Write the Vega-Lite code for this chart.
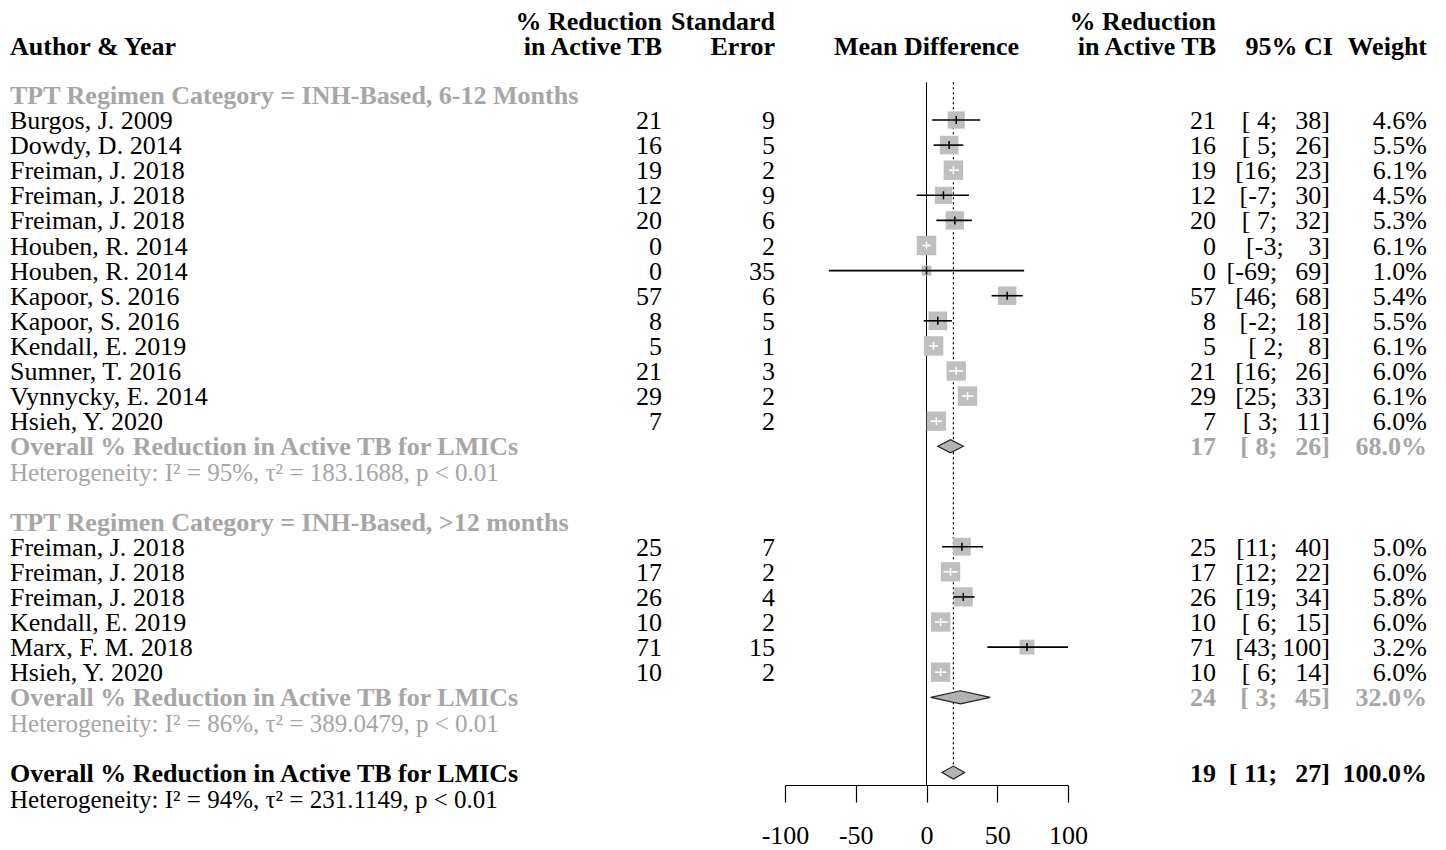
{
  "$schema": "https://vega.github.io/schema/vega-lite/v6.json",
  "padding": {"left": 10, "top": 0, "right": 5, "bottom": 5},
  "background": "white",
  "spacing": 0,
  "bounds": "flush",
  "config": {
    "view": {"stroke": null},
    "text": {"font": "Liberation Serif", "fontSize": 26, "baseline": "middle"}
  },
  "resolve": {"scale": {"x": "independent", "y": "independent"}},
  "datasets": {
    "rows": [
      {"row": 0, "kind": "group", "label": "TPT Regimen Category = INH-Based, 6-12 Months"},
      {"row": 1, "kind": "study", "label": "Burgos, J. 2009", "est": 21, "se": 9, "lower": 4, "upper": 38, "weight": 4.6, "ci": "[\u00a04;\u2002\u200938]", "ci_in_box": "no"},
      {"row": 2, "kind": "study", "label": "Dowdy, D. 2014", "est": 16, "se": 5, "lower": 5, "upper": 26, "weight": 5.5, "ci": "[\u00a05;\u2002\u200926]", "ci_in_box": "no"},
      {"row": 3, "kind": "study", "label": "Freiman, J. 2018", "est": 19, "se": 2, "lower": 16, "upper": 23, "weight": 6.1, "ci": "[16;\u2002\u200923]", "ci_in_box": "yes"},
      {"row": 4, "kind": "study", "label": "Freiman, J. 2018", "est": 12, "se": 9, "lower": -7, "upper": 30, "weight": 4.5, "ci": "[-7;\u2002\u200930]", "ci_in_box": "no"},
      {"row": 5, "kind": "study", "label": "Freiman, J. 2018", "est": 20, "se": 6, "lower": 7, "upper": 32, "weight": 5.3, "ci": "[\u00a07;\u2002\u200932]", "ci_in_box": "no"},
      {"row": 6, "kind": "study", "label": "Houben, R. 2014", "est": 0, "se": 2, "lower": -3, "upper": 3, "weight": 6.1, "ci": "[-3;\u2002\u2009\u00a03]", "ci_in_box": "yes"},
      {"row": 7, "kind": "study", "label": "Houben, R. 2014", "est": 0, "se": 35, "lower": -69, "upper": 69, "weight": 1.0, "ci": "[-69;\u2002\u200969]", "ci_in_box": "no"},
      {"row": 8, "kind": "study", "label": "Kapoor, S. 2016", "est": 57, "se": 6, "lower": 46, "upper": 68, "weight": 5.4, "ci": "[46;\u2002\u200968]", "ci_in_box": "no"},
      {"row": 9, "kind": "study", "label": "Kapoor, S. 2016", "est": 8, "se": 5, "lower": -2, "upper": 18, "weight": 5.5, "ci": "[-2;\u2002\u200918]", "ci_in_box": "no"},
      {"row": 10, "kind": "study", "label": "Kendall, E. 2019", "est": 5, "se": 1, "lower": 2, "upper": 8, "weight": 6.1, "ci": "[\u00a02;\u2002\u2009\u00a08]", "ci_in_box": "yes"},
      {"row": 11, "kind": "study", "label": "Sumner, T. 2016", "est": 21, "se": 3, "lower": 16, "upper": 26, "weight": 6.0, "ci": "[16;\u2002\u200926]", "ci_in_box": "yes"},
      {"row": 12, "kind": "study", "label": "Vynnycky, E. 2014", "est": 29, "se": 2, "lower": 25, "upper": 33, "weight": 6.1, "ci": "[25;\u2002\u200933]", "ci_in_box": "yes"},
      {"row": 13, "kind": "study", "label": "Hsieh, Y. 2020", "est": 7, "se": 2, "lower": 3, "upper": 11, "weight": 6.0, "ci": "[\u00a03;\u2002\u200911]", "ci_in_box": "yes"},
      {"row": 14, "kind": "subtotal", "label": "Overall % Reduction in Active TB for LMICs", "est": 17, "lower": 8, "upper": 26, "weight": 68.0, "ci": "[\u00a08;\u2002\u200926]"},
      {"row": 15, "kind": "het_sub", "label": "Heterogeneity: I² = 95%, τ² = 183.1688, p < 0.01"},
      {"row": 17, "kind": "group", "label": "TPT Regimen Category = INH-Based, >12 months"},
      {"row": 18, "kind": "study", "label": "Freiman, J. 2018", "est": 25, "se": 7, "lower": 11, "upper": 40, "weight": 5.0, "ci": "[11;\u2002\u200940]", "ci_in_box": "no"},
      {"row": 19, "kind": "study", "label": "Freiman, J. 2018", "est": 17, "se": 2, "lower": 12, "upper": 22, "weight": 6.0, "ci": "[12;\u2002\u200922]", "ci_in_box": "yes"},
      {"row": 20, "kind": "study", "label": "Freiman, J. 2018", "est": 26, "se": 4, "lower": 19, "upper": 34, "weight": 5.8, "ci": "[19;\u2002\u200934]", "ci_in_box": "no"},
      {"row": 21, "kind": "study", "label": "Kendall, E. 2019", "est": 10, "se": 2, "lower": 6, "upper": 15, "weight": 6.0, "ci": "[\u00a06;\u2002\u200915]", "ci_in_box": "yes"},
      {"row": 22, "kind": "study", "label": "Marx, F. M. 2018", "est": 71, "se": 15, "lower": 43, "upper": 100, "weight": 3.2, "ci": "[43;\u2009100]", "ci_in_box": "no"},
      {"row": 23, "kind": "study", "label": "Hsieh, Y. 2020", "est": 10, "se": 2, "lower": 6, "upper": 14, "weight": 6.0, "ci": "[\u00a06;\u2002\u200914]", "ci_in_box": "yes"},
      {"row": 24, "kind": "subtotal", "label": "Overall % Reduction in Active TB for LMICs", "est": 24, "lower": 3, "upper": 45, "weight": 32.0, "ci": "[\u00a03;\u2002\u200945]"},
      {"row": 25, "kind": "het_sub", "label": "Heterogeneity: I² = 86%, τ² = 389.0479, p < 0.01"},
      {"row": 27, "kind": "total", "label": "Overall % Reduction in Active TB for LMICs", "est": 19, "lower": 11, "upper": 27, "weight": 100.0, "ci": "[\u00a011;\u2002\u200927]"},
      {"row": 28, "kind": "het_total", "label": "Heterogeneity: I² = 94%, τ² = 231.1149, p < 0.01"}
    ],
    "headers": [
      {"col": "author", "row": -2, "text": "Author & Year"},
      {"col": "pct", "row": -3, "text": "% Reduction"},
      {"col": "pct", "row": -2, "text": "in Active TB"},
      {"col": "se", "row": -3, "text": "Standard"},
      {"col": "se", "row": -2, "text": "Error"},
      {"col": "md", "row": -2, "text": "Mean Difference"},
      {"col": "pct2", "row": -3, "text": "% Reduction"},
      {"col": "pct2", "row": -2, "text": "in Active TB"},
      {"col": "ci", "row": -2, "text": "95% CI"},
      {"col": "w", "row": -2, "text": "Weight"}
    ]
  },
  "data": {"name": "rows"},
  "hconcat": [
    {
      "width": 610, "height": 845,
      "encoding": {
        "x": {"datum": 0, "type": "quantitative", "scale": {"domain": [0, 1], "nice": false, "zero": false}, "axis": null},
        "y": {"field": "row", "type": "quantitative", "scale": {"domain": [-3.781, 29.884], "reverse": true, "nice": false, "zero": false}, "axis": null}
      },
      "layer": [
        {"data": {"name": "headers"}, "transform": [{"filter": "datum.col == 'author'"}],
         "mark": {"type": "text", "align": "left", "fontWeight": "bold", "color": "black", "dy": 2},
         "encoding": {"text": {"field": "text"}}},
        {"transform": [{"filter": "datum.kind == 'study'"}],
         "mark": {"type": "text", "align": "left", "color": "black", "dy": 1},
         "encoding": {"text": {"field": "label"}}},
        {"transform": [{"filter": "datum.kind == 'group' || datum.kind == 'subtotal'"}],
         "mark": {"type": "text", "align": "left", "fontWeight": "bold", "color": "#a6a6a6", "dy": 1},
         "encoding": {"text": {"field": "label"}}},
        {"transform": [{"filter": "datum.kind == 'het_sub'"}],
         "mark": {"type": "text", "align": "left", "color": "#a6a6a6", "fontSize": 25, "dy": 2},
         "encoding": {"text": {"field": "label"}}},
        {"transform": [{"filter": "datum.kind == 'total'"}],
         "mark": {"type": "text", "align": "left", "fontWeight": "bold", "color": "black", "dy": 1},
         "encoding": {"text": {"field": "label"}}},
        {"transform": [{"filter": "datum.kind == 'het_total'"}],
         "mark": {"type": "text", "align": "left", "color": "black", "fontSize": 25, "dy": 2},
         "encoding": {"text": {"field": "label"}}}
      ]
    },
    {
      "width": 42, "height": 845,
      "encoding": {
        "x": {"datum": 1, "type": "quantitative", "scale": {"domain": [0, 1], "nice": false, "zero": false}, "axis": null},
        "y": {"field": "row", "type": "quantitative", "scale": {"domain": [-3.781, 29.884], "reverse": true, "nice": false, "zero": false}, "axis": null}
      },
      "layer": [
        {"data": {"name": "headers"}, "transform": [{"filter": "datum.col == 'pct'"}],
         "mark": {"type": "text", "align": "right", "fontWeight": "bold", "color": "black", "dy": 2},
         "encoding": {"text": {"field": "text"}}},
        {"transform": [{"filter": "datum.kind == 'study'"}],
         "mark": {"type": "text", "align": "right", "color": "black", "dy": 1},
         "encoding": {"text": {"field": "est", "type": "quantitative", "format": "d"}}}
      ]
    },
    {
      "width": 123, "height": 845,
      "encoding": {
        "x": {"datum": 1, "type": "quantitative", "scale": {"domain": [0, 1], "nice": false, "zero": false}, "axis": null},
        "y": {"field": "row", "type": "quantitative", "scale": {"domain": [-3.781, 29.884], "reverse": true, "nice": false, "zero": false}, "axis": null}
      },
      "layer": [
        {"data": {"name": "headers"}, "transform": [{"filter": "datum.col == 'se'"}],
         "mark": {"type": "text", "align": "right", "fontWeight": "bold", "color": "black", "dy": 2, "dx": -10},
         "encoding": {"text": {"field": "text"}}},
        {"transform": [{"filter": "datum.kind == 'study'"}],
         "mark": {"type": "text", "align": "right", "color": "black", "dx": -10, "dy": 1},
         "encoding": {"text": {"field": "se", "type": "quantitative", "format": "d"}}}
      ]
    },
    {
      "width": 283, "height": 785,
      "layer": [
        {"data": {"name": "headers"}, "transform": [{"filter": "datum.col == 'md'"}],
         "mark": {"type": "text", "align": "center", "fontWeight": "bold", "color": "black", "dy": 2},
         "encoding": {
           "x": {"datum": 0, "type": "quantitative"},
           "y": {"field": "row", "type": "quantitative"},
           "text": {"field": "text"}}},
        {"transform": [{"filter": "datum.kind == 'total'"}],
         "mark": {"type": "rule", "color": "black", "strokeWidth": 1},
         "encoding": {
           "x": {"datum": 0, "type": "quantitative"},
           "y": {"datum": -0.5, "type": "quantitative"},
           "y2": {"datum": 27.494}}},
        {"transform": [{"filter": "datum.kind == 'total'"}],
         "mark": {"type": "rule", "color": "black", "strokeWidth": 1.2, "strokeDash": [2, 3]},
         "encoding": {
           "x": {"field": "est", "type": "quantitative"},
           "y": {"datum": -0.5, "type": "quantitative"},
           "y2": {"datum": 27.1}}},
        {"transform": [{"filter": "datum.kind == 'study'"}],
         "mark": {"type": "square", "filled": true, "color": "#bfbfbf", "opacity": 1},
         "encoding": {
           "x": {"field": "est", "type": "quantitative"},
           "y": {"field": "row", "type": "quantitative"},
           "size": {"field": "weight", "type": "quantitative", "scale": {"domain": [1, 6.1], "range": [100, 380], "zero": false}, "legend": null}}},
        {"transform": [{"filter": "datum.kind == 'study'"}],
         "mark": {"type": "rule", "strokeWidth": 1.6},
         "encoding": {
           "x": {"field": "lower", "type": "quantitative"},
           "x2": {"field": "upper"},
           "y": {"field": "row", "type": "quantitative"},
           "color": {"field": "ci_in_box", "type": "nominal", "scale": {"domain": ["yes", "no"], "range": ["white", "black"]}, "legend": null}}},
        {"transform": [{"filter": "datum.kind == 'study'"}],
         "mark": {"type": "tick", "orient": "vertical", "size": 8, "thickness": 1.5, "opacity": 1},
         "encoding": {
           "x": {"field": "est", "type": "quantitative"},
           "y": {"field": "row", "type": "quantitative"},
           "color": {"field": "ci_in_box", "type": "nominal", "scale": {"domain": ["yes", "no"], "range": ["white", "black"]}, "legend": null}}},
        {"transform": [
           {"filter": "datum.kind == 'subtotal' || datum.kind == 'total'"},
           {"fold": ["lower", "est", "upper"], "as": ["pt", "xv"]},
           {"calculate": "datum.pt == 'est' ? 0.26 : 0", "as": "half"},
           {"calculate": "datum.row - datum.half", "as": "ylo"},
           {"calculate": "datum.row + datum.half", "as": "yhi"}
         ],
         "mark": {"type": "area", "orient": "vertical", "fill": "#b3b3b3", "stroke": "#222222", "strokeWidth": 1.2, "opacity": 1, "fillOpacity": 1},
         "encoding": {
           "x": {"field": "xv", "type": "quantitative"},
           "y": {"field": "ylo", "type": "quantitative"},
           "y2": {"field": "yhi"},
           "detail": {"field": "row", "type": "nominal"}}}
      ],
      "resolve": {"scale": {"color": "shared"}},
      "encoding": {
        "x": {"type": "quantitative", "scale": {"domain": [-100, 100], "nice": false, "zero": false},
              "axis": {"values": [-100, -50, 0, 50, 100], "title": null, "grid": false, "domainColor": "black", "domainWidth": 1.2,
                       "tickColor": "black", "tickWidth": 1.2, "tickSize": 17, "labelFont": "Liberation Serif", "labelFontSize": 26,
                       "labelColor": "black", "labelPadding": 20, "labelFlush": false, "labelOverlap": false, "labelExpr": "'' + datum.value"}},
        "y": {"type": "quantitative", "scale": {"domain": [-3.781, 27.494], "reverse": true, "nice": false, "zero": false}, "axis": null}
      }
    },
    {
      "width": 148, "height": 845,
      "encoding": {
        "x": {"datum": 1, "type": "quantitative", "scale": {"domain": [0, 1], "nice": false, "zero": false}, "axis": null},
        "y": {"field": "row", "type": "quantitative", "scale": {"domain": [-3.781, 29.884], "reverse": true, "nice": false, "zero": false}, "axis": null}
      },
      "layer": [
        {"data": {"name": "headers"}, "transform": [{"filter": "datum.col == 'pct2'"}],
         "mark": {"type": "text", "align": "right", "fontWeight": "bold", "color": "black", "dy": 2},
         "encoding": {"text": {"field": "text"}}},
        {"transform": [{"filter": "datum.kind == 'study'"}],
         "mark": {"type": "text", "align": "right", "color": "black", "dy": 1},
         "encoding": {"text": {"field": "est", "type": "quantitative", "format": "d"}}},
        {"transform": [{"filter": "datum.kind == 'subtotal'"}],
         "mark": {"type": "text", "align": "right", "color": "#a6a6a6", "fontWeight": "bold", "dy": 1},
         "encoding": {"text": {"field": "est", "type": "quantitative", "format": "d"}}},
        {"transform": [{"filter": "datum.kind == 'total'"}],
         "mark": {"type": "text", "align": "right", "color": "black", "fontWeight": "bold", "dy": 1},
         "encoding": {"text": {"field": "est", "type": "quantitative", "format": "d"}}}
      ]
    },
    {
      "width": 114, "height": 845,
      "encoding": {
        "x": {"datum": 1, "type": "quantitative", "scale": {"domain": [0, 1], "nice": false, "zero": false}, "axis": null},
        "y": {"field": "row", "type": "quantitative", "scale": {"domain": [-3.781, 29.884], "reverse": true, "nice": false, "zero": false}, "axis": null}
      },
      "layer": [
        {"data": {"name": "headers"}, "transform": [{"filter": "datum.col == 'ci'"}],
         "mark": {"type": "text", "align": "right", "fontWeight": "bold", "color": "black", "dy": 2, "dx": 3},
         "encoding": {"text": {"field": "text"}}},
        {"transform": [{"filter": "datum.kind == 'study'"}],
         "mark": {"type": "text", "align": "right", "color": "black", "dy": 1},
         "encoding": {"text": {"field": "ci"}}},
        {"transform": [{"filter": "datum.kind == 'subtotal'"}],
         "mark": {"type": "text", "align": "right", "color": "#a6a6a6", "fontWeight": "bold", "dy": 1},
         "encoding": {"text": {"field": "ci"}}},
        {"transform": [{"filter": "datum.kind == 'total'"}],
         "mark": {"type": "text", "align": "right", "color": "black", "fontWeight": "bold", "dy": 1},
         "encoding": {"text": {"field": "ci"}}}
      ]
    },
    {
      "width": 97, "height": 845,
      "transform": [{"calculate": "isValid(datum.weight) ? format(datum.weight, '.1f') + '%' : ''", "as": "wtxt"}],
      "encoding": {
        "x": {"datum": 1, "type": "quantitative", "scale": {"domain": [0, 1], "nice": false, "zero": false}, "axis": null},
        "y": {"field": "row", "type": "quantitative", "scale": {"domain": [-3.781, 29.884], "reverse": true, "nice": false, "zero": false}, "axis": null}
      },
      "layer": [
        {"data": {"name": "headers"}, "transform": [{"filter": "datum.col == 'w'"}],
         "mark": {"type": "text", "align": "right", "fontWeight": "bold", "color": "black", "dy": 2},
         "encoding": {"text": {"field": "text"}}},
        {"transform": [{"filter": "datum.kind == 'study'"}],
         "mark": {"type": "text", "align": "right", "color": "black", "dy": 1},
         "encoding": {"text": {"field": "wtxt"}}},
        {"transform": [{"filter": "datum.kind == 'subtotal'"}],
         "mark": {"type": "text", "align": "right", "color": "#a6a6a6", "fontWeight": "bold", "dy": 1},
         "encoding": {"text": {"field": "wtxt"}}},
        {"transform": [{"filter": "datum.kind == 'total'"}],
         "mark": {"type": "text", "align": "right", "color": "black", "fontWeight": "bold", "dy": 1},
         "encoding": {"text": {"field": "wtxt"}}}
      ]
    }
  ]
}
